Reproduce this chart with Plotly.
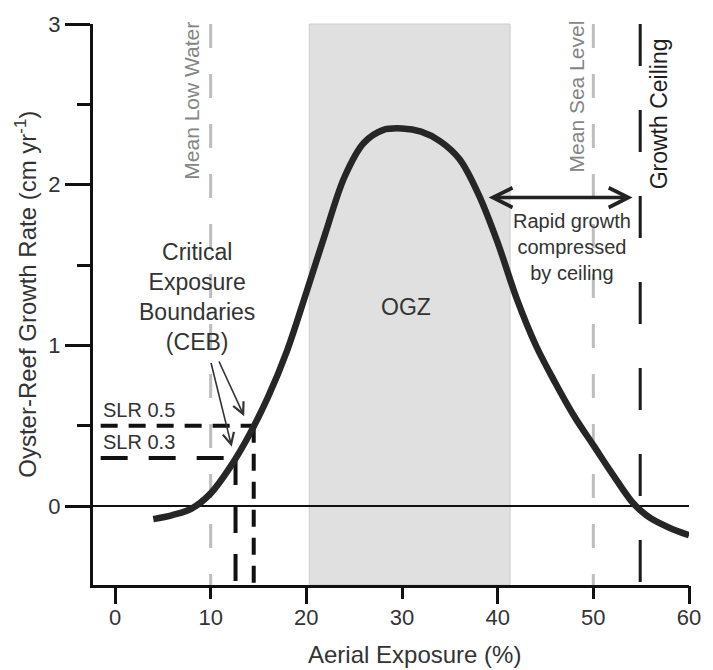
import numpy as np
import plotly.graph_objects as go

# Growth-rate curve: aerial exposure (%) vs oyster-reef growth rate (cm/yr)
exposure = [4, 6, 8, 10, 12, 14, 16, 18, 20, 22, 24, 26, 28, 30, 32, 34, 36,
            38, 40, 42, 44, 46, 48, 50, 52, 54, 55, 56, 58, 60]
growth = [-0.08, -0.055, -0.015, 0.08, 0.24, 0.44, 0.68, 0.97, 1.33, 1.70, 2.05,
          2.26, 2.34, 2.35, 2.33, 2.27, 2.16, 1.94, 1.64, 1.29, 1.00, 0.77, 0.56,
          0.38, 0.20, 0.03, -0.03, -0.075, -0.135, -0.18]

# Optimal growth zone (OGZ) bounds, % exposure
ogz_bounds = [20.3, 41.3]

# Tidal reference levels and growth ceiling, % exposure
mean_low_water = 10
mean_sea_level = 50
growth_ceiling = 54.9

# Sea-level-rise rates (cm/yr) defining critical exposure boundaries
slr_rates = [0.5, 0.3]
slr_labels = ["SLR 0.5", "SLR 0.3"]
slr_line_start = -1.5

# "Rapid growth compressed by ceiling" span
compressed_span = [38.9, 54.1]
compressed_level = 1.92

x_ticks = [0, 10, 20, 30, 40, 50, 60]
x_long_ticks = [0, 20, 40, 60]
y_ticks = [0, 1, 2, 3]

X_RANGE = [-2.3, 60]
Y_RANGE = [-0.49, 3]
FONT = "Arial, Liberation Sans, sans-serif"
TXT = "#333333"

# CEB crossing points on the rising limb of the curve
peak = int(np.argmax(growth))
rise_x = np.array(exposure[:peak + 1])
rise_y = np.array(growth[:peak + 1])
ceb_x = [float(np.interp(r, rise_y, rise_x)) for r in slr_rates]

fig = go.Figure()

# OGZ shading
fig.add_vrect(x0=ogz_bounds[0], x1=ogz_bounds[1], fillcolor="#e0e0e0",
              line=dict(color="#cccccc", width=1), layer="below")

# Mean low water / mean sea level (grey dashed)
for lvl in (mean_low_water, mean_sea_level):
    fig.add_trace(go.Scatter(x=[lvl, lvl], y=[Y_RANGE[1], Y_RANGE[0]],
                             mode="lines", hoverinfo="skip", showlegend=False,
                             line=dict(color="#bdbdbd", width=3, dash="24px,26px")))

# Growth ceiling (black long dashes) on the overlay axis carrying long ticks
fig.add_trace(go.Scatter(x=[growth_ceiling, growth_ceiling], y=[Y_RANGE[1], Y_RANGE[0]],
                         mode="lines", hoverinfo="skip", showlegend=False, xaxis="x2",
                         line=dict(color="#1a1a1a", width=3, dash="42px,44px")))

# SLR guide lines to the curve and down to the axis
slr_dash = ["17px,11px", "27px,21px"]
for rate, cx, dash in zip(slr_rates, ceb_x, slr_dash):
    fig.add_trace(go.Scatter(x=[slr_line_start, cx], y=[rate, rate], mode="lines",
                             hoverinfo="skip", showlegend=False,
                             line=dict(color="#111111", width=4, dash=dash)))
    fig.add_trace(go.Scatter(x=[cx, cx], y=[rate, Y_RANGE[0]], mode="lines",
                             hoverinfo="skip", showlegend=False,
                             line=dict(color="#111111", width=4, dash=dash)))

# Growth curve
fig.add_trace(go.Scatter(x=exposure, y=growth, mode="lines", showlegend=False,
                         line=dict(color="#262626", width=6.5, shape="spline",
                                   smoothing=1.0)))

ann = []
# SLR labels
for rate, lab in zip(slr_rates, slr_labels):
    ann.append(dict(x=slr_line_start, y=rate, yshift=16, text=lab, showarrow=False,
                    xanchor="left", yanchor="middle",
                    font=dict(size=20, color=TXT, family=FONT)))

# Vertical reference labels
ann.append(dict(x=8.0, y=2.52, text="Mean Low Water", textangle=-90, showarrow=False,
                xanchor="center", yanchor="middle",
                font=dict(size=21, color="#858585", family=FONT)))
ann.append(dict(x=48.2, y=2.55, text="Mean Sea Level", textangle=-90, showarrow=False,
                xanchor="center", yanchor="middle",
                font=dict(size=21, color="#858585", family=FONT)))
ann.append(dict(x=56.9, y=2.44, text="Growth Ceiling", textangle=-90, showarrow=False,
                xanchor="center", yanchor="middle",
                font=dict(size=23, color="#1e1e1e", family=FONT)))

ann.append(dict(x=30.4, y=1.24, text="OGZ", showarrow=False,
                font=dict(size=23, color=TXT, family=FONT)))
ann.append(dict(x=47.8, y=1.615, text="Rapid growth<br>compressed<br>by ceiling",
                showarrow=False, font=dict(size=20, color=TXT, family=FONT)))
ann.append(dict(x=8.6, y=1.30, text="Critical<br>Exposure<br>Boundaries<br>(CEB)",
                showarrow=False, font=dict(size=23, color=TXT, family=FONT)))

# CEB pointer arrows
ceb_tails = [(10.8, 0.91), (10.0, 0.90)]
ceb_head_offsets = [(-1.0, 0.06), (-0.4, 0.07)]
for cx, rate, (tx, ty), (dx, dy) in zip(ceb_x, slr_rates, ceb_tails, ceb_head_offsets):
    ann.append(dict(x=cx + dx, y=rate + dy, ax=tx, ay=ty, axref="x", ayref="y",
                    xref="x", yref="y", text="", showarrow=True, arrowhead=5,
                    arrowsize=1.4, arrowwidth=1.6, arrowcolor="#333333"))

# Double-headed compression arrow
ann.append(dict(x=compressed_span[1], y=compressed_level, ax=compressed_span[0],
                ay=compressed_level, axref="x", ayref="y", xref="x", yref="y",
                text="", showarrow=True, arrowhead=5, startarrowhead=5,
                arrowside="end+start", arrowsize=1.1, startarrowsize=1.1,
                arrowwidth=3.5, arrowcolor="#222222"))

# Axis titles
ann.append(dict(x=0.54, y=-0.124, xref="paper", yref="paper", text="Aerial Exposure (%)",
                xanchor="center", yanchor="middle", showarrow=False,
                font=dict(size=24, color=TXT, family=FONT)))
ann.append(dict(x=-0.1126, y=0.519, xref="paper", yref="paper",
                text="Oyster-Reef Growth Rate (cm yr<sup>-1</sup>)", textangle=-90,
                xanchor="center", yanchor="middle", showarrow=False,
                font=dict(size=24, color=TXT, family=FONT)))

fig.update_layout(
    width=713, height=670,
    margin=dict(l=93, r=16, t=20, b=85),
    paper_bgcolor="white", plot_bgcolor="white",
    font=dict(family=FONT, color=TXT),
    annotations=ann,
    xaxis=dict(range=X_RANGE, tickvals=x_ticks, ticks="outside", ticklen=11,
               tickwidth=3, tickcolor="#111111", showline=True, linewidth=3,
               linecolor="#111111", showgrid=False, zeroline=False,
               tickfont=dict(size=22, color=TXT, family=FONT)),
    xaxis2=dict(range=X_RANGE, overlaying="x", anchor="y", side="bottom",
                tickvals=x_long_ticks, ticks="outside", ticklen=18, tickwidth=3,
                tickcolor="#111111", showticklabels=False, showgrid=False,
                zeroline=False, showline=False),
    yaxis=dict(range=Y_RANGE, tickvals=y_ticks, ticks="outside", ticklen=25,
               tickwidth=3, tickcolor="#111111", showline=True, linewidth=3,
               linecolor="#111111", showgrid=False, zeroline=True,
               zerolinecolor="#111111", zerolinewidth=1.5,
               minor=dict(dtick=0.5, ticks="outside", ticklen=13, tickwidth=3,
                          tickcolor="#111111"),
               tickfont=dict(size=22, color=TXT, family=FONT)),
)

fig.write_html("out.html")
